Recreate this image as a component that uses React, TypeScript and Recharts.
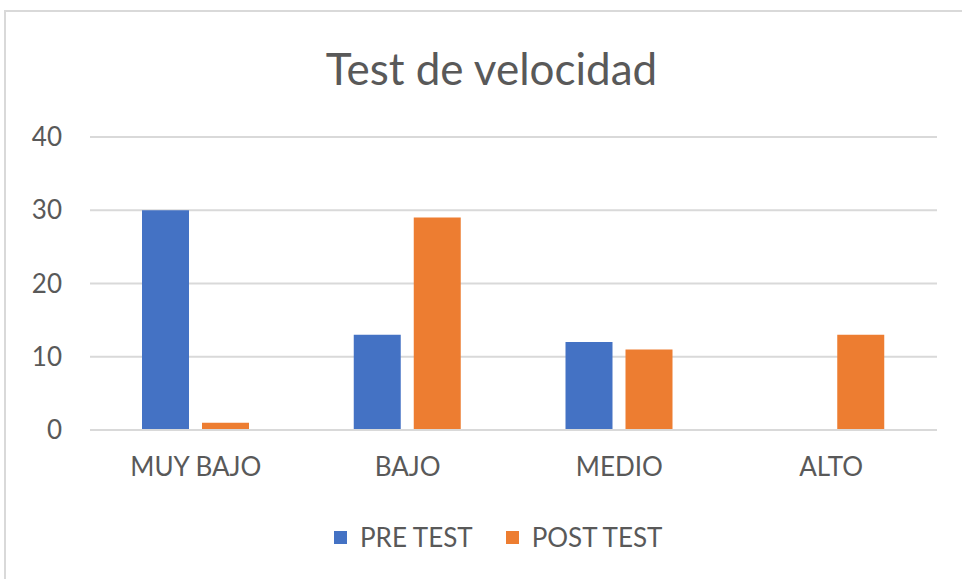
import React from 'react'
import { BarChart, Bar, XAxis, YAxis, CartesianGrid } from 'recharts'

const categories = ['MUY BAJO', 'BAJO', 'MEDIO', 'ALTO']
const preTest = [30, 13, 12, 0]
const postTest = [1, 29, 11, 13]
const yTicks = [0, 10, 20, 30, 40]
const seriesNames = ['PRE TEST', 'POST TEST']
const seriesColors = ['#4472c4', '#ed7d31']

const chartData = categories.map((name, i) => ({
  name,
  pre: preTest[i],
  post: postTest[i],
}))

const FONT = 'Lato, "Open Sans", sans-serif'
const TEXT = '#595959'
const GRID = '#d9d9d9'

export default function App() {
  return (
    <div style={{ position: 'absolute', left: 0, top: 0, width: 962, height: 579, background: '#fff', overflow: 'hidden', fontFamily: FONT }}>
      {/* chart frame, only top and left edges are visible */}
      <div
        style={{
          position: 'absolute',
          left: 4,
          top: 10,
          width: 1000,
          height: 600,
          borderLeft: '2px solid #d9d9d9',
          borderTop: '2px solid #d9d9d9',
        }}
      />
      <div
        style={{
          position: 'absolute',
          left: 0,
          width: 983,
          top: 42,
          textAlign: 'center',
          fontSize: 44,
          color: TEXT,
          lineHeight: '52px',
        }}
      >
        Test de velocidad
      </div>
      <div style={{ position: 'absolute', left: 0, top: 0 }}>
        <BarChart
          width={962}
          height={579}
          data={chartData}
          margin={{ top: 137, right: 25, bottom: 119, left: 0 }}
          barSize={47}
          barGap={13}
        >
          <CartesianGrid vertical={false} stroke={GRID} strokeWidth={2} />
          <XAxis
            dataKey="name"
            height={30}
            axisLine={{ stroke: GRID, strokeWidth: 2 }}
            tickLine={false}
            tickMargin={22}
            tick={{ fill: TEXT, fontSize: 26, fontFamily: FONT }}
          />
          <YAxis
            width={90}
            domain={[0, 40]}
            ticks={yTicks}
            axisLine={false}
            tickLine={false}
            tickMargin={22}
            tick={{ fill: TEXT, fontSize: 26, fontFamily: FONT }}
          />
          <Bar dataKey="pre" name={seriesNames[0]} fill={seriesColors[0]} isAnimationActive={false} />
          <Bar dataKey="post" name={seriesNames[1]} fill={seriesColors[1]} isAnimationActive={false} />
        </BarChart>
      </div>
      <div
        style={{
          position: 'absolute',
          left: 334,
          top: 520,
          display: 'flex',
          alignItems: 'center',
          height: 34,
          color: TEXT,
          fontSize: 26,
        }}
      >
        {seriesNames.map((n, i) => (
          <div key={n} style={{ display: 'flex', alignItems: 'center', marginRight: 33 }}>
            <span style={{ width: 13, height: 13, background: seriesColors[i], marginRight: 13, display: 'inline-block' }} />
            <span>{n}</span>
          </div>
        ))}
      </div>
    </div>
  )
}
